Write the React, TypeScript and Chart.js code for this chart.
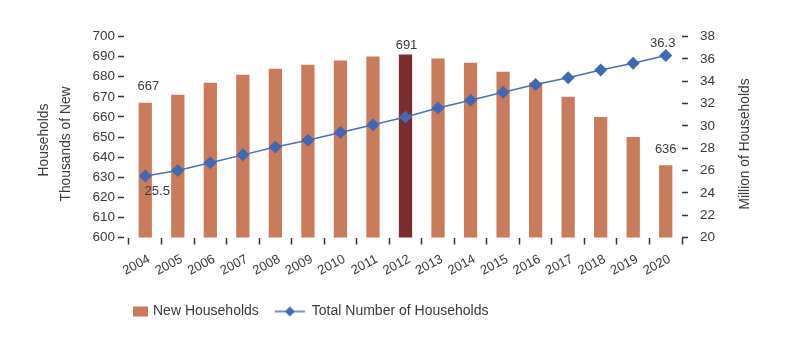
import React, { useEffect, useRef } from "react";
import { Chart, registerables } from "chart.js";

Chart.register(...registerables);

const years = ["2004","2005","2006","2007","2008","2009","2010","2011","2012","2013","2014","2015","2016","2017","2018","2019","2020"];
const newHouseholds = [667, 671, 677, 681, 684, 686, 688, 690, 691, 689, 687, 682.5, 677, 670, 660, 650, 636];
const totalHouseholds = [25.5, 26.0, 26.7, 27.4, 28.1, 28.7, 29.4, 30.1, 30.8, 31.6, 32.3, 33.0, 33.7, 34.3, 35.0, 35.6, 36.3];
const highlightYear = "2012";
const leftTitle = ["Households", "Thousands of New"];
const rightTitle = "Million of Households";
const seriesNames = ["New Households", "Total Number of Households"];
// value labels: [datasetIndex, pointIndex, text]
const valueLabels: [number, number, string][] = [
  [0, 0, "667"],
  [0, 8, "691"],
  [0, 16, "636"],
  [1, 0, "25.5"],
  [1, 16, "36.3"],
];

const BAR = "#C97B5C";
const BAR_HI = "#7A2C2F";
const LINE = "#4A6FB3";
const POINT = "#3F69B2";
const TEXT = "#3a3a3a";
const FONT = "'Liberation Sans', Arial, sans-serif";

const labelOffsets: Record<string, [number, number]> = {
  "0-0": [3, -16],
  "0-8": [1, -9],
  "0-16": [0, -16],
  "1-0": [12, 15],
  "1-16": [-3, -12.5],
};

function makeBoxImage() {
  const c = document.createElement("canvas");
  c.width = 40; c.height = 12;
  const ctx = c.getContext("2d")!;
  ctx.fillStyle = BAR;
  ctx.fillRect(25, 1, 15, 10);
  return c;
}
function makeLineImage() {
  const c = document.createElement("canvas");
  c.width = 40; c.height = 14;
  const ctx = c.getContext("2d")!;
  ctx.strokeStyle = LINE;
  ctx.lineWidth = 1.5;
  ctx.beginPath();
  ctx.moveTo(8, 7); ctx.lineTo(38, 7); ctx.stroke();
  ctx.fillStyle = POINT;
  ctx.beginPath();
  ctx.moveTo(23, 2); ctx.lineTo(28, 7); ctx.lineTo(23, 12); ctx.lineTo(18, 7); ctx.closePath();
  ctx.fill();
  return c;
}

export default function App() {
  const ref = useRef<HTMLCanvasElement | null>(null);
  useEffect(() => {
    document.body.style.margin = "0";
    const canvas = ref.current!;
    const boxImg = makeBoxImage();
    const lineImg = makeLineImage();

    const bgPlugin = {
      id: "bg",
      beforeDraw(chart: any) {
        const ctx = chart.ctx;
        ctx.save();
        ctx.fillStyle = "#ffffff";
        ctx.fillRect(0, 0, chart.width, chart.height);
        ctx.restore();
      },
    };

    const layoutPlugin = {
      id: "legendPos",
      afterLayout(chart: any) {
        const lg = chart.legend;
        if (!lg) return;
        const h = lg.height;
        lg.left = 100; lg.right = 780;
        lg.top = 294.5; lg.bottom = lg.top + h;
      },
    };

    const textPlugin = {
      id: "texts",
      afterDraw(chart: any) {
        const ctx = chart.ctx;
        ctx.save();
        ctx.fillStyle = TEXT;
        ctx.font = `13px ${FONT}`;
        ctx.textAlign = "center";
        ctx.textBaseline = "middle";
        valueLabels.forEach(([ds, i, txt]) => {
          const el = chart.getDatasetMeta(ds).data[i];
          const off = labelOffsets[`${ds}-${i}`] || [0, -12];
          ctx.fillText(txt, el.x + off[0], el.y + off[1]);
        });
        // axis titles
        ctx.font = `13.8px ${FONT}`;
        const area = chart.chartArea;
        const cy = (area.top + area.bottom) / 2 + 6;
        const drawRot = (t: string, x: number, y: number) => {
          ctx.save();
          ctx.translate(x, y);
          ctx.rotate(-Math.PI / 2);
          ctx.fillText(t, 0, 0);
          ctx.restore();
        };
        drawRot(leftTitle[0], 44, cy - 3);
        drawRot(leftTitle[1], 66, cy + 1);
        drawRot(rightTitle, 745, cy + 1);
        ctx.restore();
      },
    };

    const chart = new Chart(canvas, {
      type: "bar",
      data: {
        labels: years,
        datasets: [
          {
            type: "bar",
            label: seriesNames[0],
            data: newHouseholds,
            backgroundColor: years.map((y) => (y === highlightYear ? BAR_HI : BAR)),
            yAxisID: "y",
            order: 1,
            categoryPercentage: 0.8,
            barPercentage: 0.51,
          },
          {
            type: "line",
            label: seriesNames[1],
            data: totalHouseholds,
            borderColor: LINE,
            borderWidth: 1.5,
            pointStyle: "rectRot",
            pointRadius: 6.5,
            pointBackgroundColor: POINT,
            pointBorderColor: POINT,
            pointBorderWidth: 0,
            yAxisID: "y2",
            order: 0,
          },
        ] as any,
      },
      options: {
        responsive: false,
        animation: false,
        devicePixelRatio: 1,
        layout: { padding: { top: 36.5, left: 0, right: 0, bottom: 0 } },
        plugins: {
          tooltip: { enabled: false },
          legend: {
            position: "bottom",
            align: "start",
            labels: {
              usePointStyle: true,
              pointStyleWidth: 36,
              padding: 10,
              color: TEXT,
              font: { family: FONT, size: 14 },
              generateLabels: () => [
                { text: seriesNames[0], pointStyle: boxImg, fillStyle: BAR, strokeStyle: BAR, lineWidth: 0, hidden: false, datasetIndex: 0, fontColor: TEXT },
                { text: seriesNames[1], pointStyle: lineImg, fillStyle: POINT, strokeStyle: LINE, lineWidth: 0, hidden: false, datasetIndex: 1, fontColor: TEXT },
              ] as any,
            },
          },
        },
        scales: {
          x: {
            grid: { offset: true, drawOnChartArea: false, tickLength: 7, tickColor: "#333", tickWidth: 1.5 },
            border: { display: false },
            ticks: { color: TEXT, font: { family: FONT, size: 13 }, minRotation: 28, maxRotation: 28, padding: 7, labelOffset: 4, autoSkip: false },
            afterFit: (s: any) => {
              const lh = s.chart.legend ? s.chart.legend.height : 0;
              s.height = 348 - 237.5 - lh;
            },
          },
          y: {
            position: "left",
            min: 600,
            max: 700,
            grid: { drawOnChartArea: false, tickLength: 11, tickColor: "#333", tickWidth: 1.5, tickBorderDash: [6, 20] },
            border: { display: false },
            ticks: { stepSize: 10, color: TEXT, font: { family: FONT, size: 13.5 }, padding: 3 },
            afterFit: (s: any) => { s.width = 129; },
          },
          y2: {
            position: "right",
            min: 20,
            max: 38,
            grid: { drawOnChartArea: false, tickLength: 6, tickColor: "#333", tickWidth: 1.5 },
            border: { display: false },
            ticks: { stepSize: 2, color: TEXT, font: { family: FONT, size: 13.5 }, padding: 12 },
            afterFit: (s: any) => { s.width = 789 - 682; },
          },
        },
      } as any,
      plugins: [bgPlugin, layoutPlugin, textPlugin],
    });
    return () => chart.destroy();
  }, []);

  return (
    <div style={{ position: "fixed", left: 0, top: 0, width: 789, height: 348, background: "#fff" }}>
      <canvas ref={ref} width={789} height={348} />
    </div>
  );
}
